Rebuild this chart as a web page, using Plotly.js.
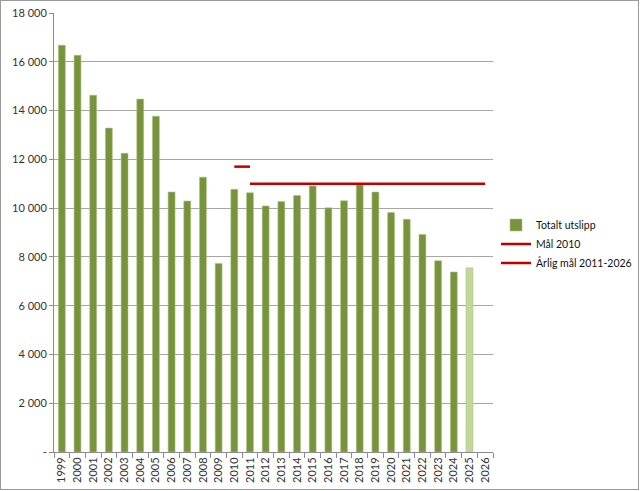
<!DOCTYPE html>
<html>
<head>
<meta charset="utf-8">
<script src="https://cdn.plot.ly/plotly-3.0.1.min.js"></script>
<style>
  html, body { margin: 0; padding: 0; background: #fff; }
  #wrap { position: relative; width: 640px; height: 491px; }
  #chart { width: 640px; height: 491px; }
  #frame { position: absolute; left: 0; top: 0; width: 637px; height: 488px; border: 1px solid #9a9a9a; pointer-events: none; }
</style>
</head>
<body>
<div id="wrap"><div id="chart"></div><div id="frame"></div></div>
<script>
const years = ['1999','2000','2001','2002','2003','2004','2005','2006','2007','2008','2009','2010','2011','2012','2013','2014','2015','2016','2017','2018','2019','2020','2021','2022','2023','2024','2025','2026'];
const totaltUtslipp = [16680,16270,14630,13280,12250,14470,13770,10660,10290,11270,7730,10770,10630,10090,10270,10520,10910,10010,10300,10970,10660,9820,9540,8920,7840,7380,7550,null];
const maal2010Years = ['2010','2011'];
const maal2010 = [11700, 11700];
const aarligMaalYears = ['2011','2012','2013','2014','2015','2016','2017','2018','2019','2020','2021','2022','2023','2024','2025','2026'];
const aarligMaal = [11000,11000,11000,11000,11000,11000,11000,11000,11000,11000,11000,11000,11000,11000,11000,11000];
const yTickVals = [0,2000,4000,6000,8000,10000,12000,14000,16000,18000];
const yTickText = ['-','2 000','4 000','6 000','8 000','10 000','12 000','14 000','16 000','18 000'];
const estimatedYear = '2025';

const dark = '#77933C', light = '#C3D69B';
const barColors = years.map(y => y === estimatedYear ? light : dark);
const font = { family: 'Lato, "Open Sans", sans-serif', size: 11, color: '#333' };

const traces = [
  { type: 'bar', name: 'Totalt utslipp', x: years, y: totaltUtslipp,
    marker: { color: barColors, line: { color: '#AFC486', width: 0.6 } } },
  { type: 'scatter', mode: 'lines', name: 'Mål 2010', x: maal2010Years, y: maal2010,
    line: { color: '#C00000', width: 2.5 } },
  { type: 'scatter', mode: 'lines', name: 'Årlig mål 2011-2026', x: aarligMaalYears, y: aarligMaal,
    line: { color: '#C00000', width: 2.5 } }
];

const layout = {
  width: 640, height: 491,
  margin: { l: 54, r: 147, t: 13, b: 39 },
  paper_bgcolor: '#fff', plot_bgcolor: '#fff',
  font: font,
  bargap: 0.56,
  showlegend: true,
  legend: { xref: 'container', yref: 'container', x: 0.775, xanchor: 'left', y: 0.503, yanchor: 'middle', itemwidth: 30,
    font: { family: font.family, size: 10.5, color: '#111' }, bgcolor: 'rgba(0,0,0,0)', tracegroupgap: 0 },
  xaxis: { type: 'category', categoryorder: 'array', categoryarray: years, tickangle: -90,
    showline: true, linecolor: '#8c8c8c', linewidth: 1, ticks: 'outside', tickson: 'boundaries',
    ticklen: 5, tickcolor: '#8c8c8c', showgrid: false, tickfont: font, fixedrange: true },
  yaxis: { range: [0, 18000], tickvals: yTickVals, ticktext: yTickText, showline: true,
    linecolor: '#8c8c8c', linewidth: 1, ticks: 'outside', ticklen: 4, tickcolor: '#8c8c8c',
    showgrid: true, gridcolor: '#a6a6a6', gridwidth: 1, zeroline: false, tickfont: font, fixedrange: true }
};

Plotly.newPlot('chart', traces, layout, { displayModeBar: false, staticPlot: true });
</script>
</body>
</html>
